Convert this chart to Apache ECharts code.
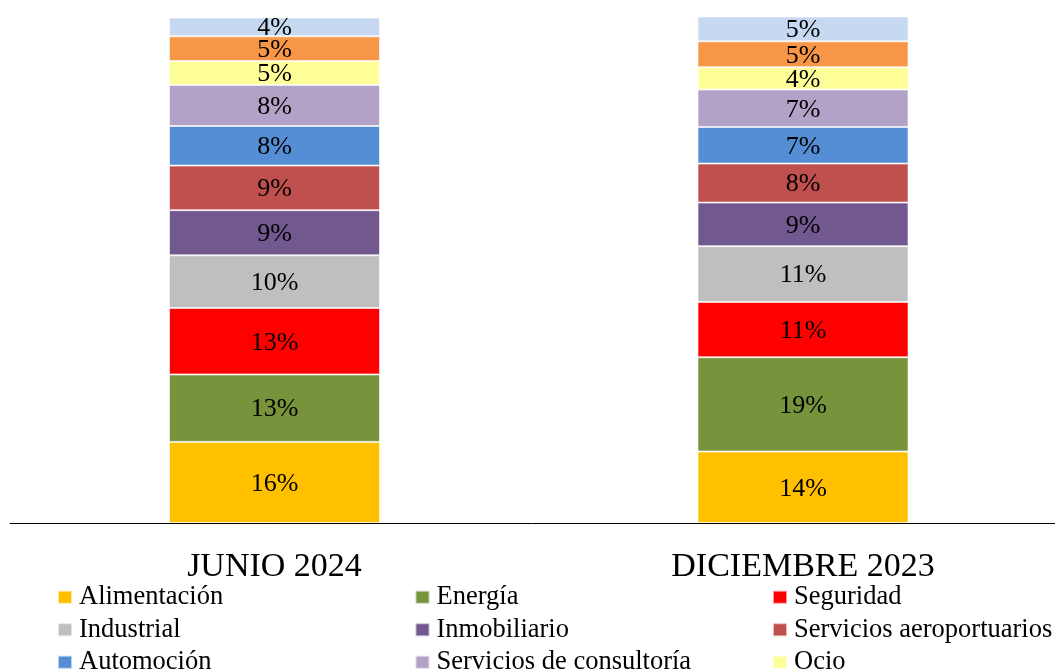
<!DOCTYPE html>
<html>
<head>
<meta charset="utf-8">
<script src="https://cdn.jsdelivr.net/npm/echarts@6/dist/echarts.min.js"></script>
<style>
html,body{margin:0;padding:0;background:#fff;}
#chart{width:1055px;height:669px;}
</style>
</head>
<body>
<div id="chart"></div>
<script>
const categories = ['JUNIO 2024', 'DICIEMBRE 2023'];
const seriesNames = ['Alimentación', 'Energía', 'Seguridad', 'Industrial', 'Inmobiliario',
  'Servicios aeroportuarios', 'Automoción', 'Servicios de consultoría', 'Ocio', 'Hostelería', 'Otros'];
const alimentacion = [16.0, 14.1];
const energia = [13.3, 18.6];
const seguridad = [13.1, 10.9];
const industrial = [10.4, 11.0];
const inmobiliario = [8.9, 8.6];
const aeroportuarios = [8.8, 7.7];
const automocion = [7.8, 7.2];
const consultoria = [8.1, 7.4];
const ocio = [4.7, 4.4];
const hosteleria = [4.9, 5.1];
const otros = [3.7, 4.9];
const seriesValues = [alimentacion, energia, seguridad, industrial, inmobiliario,
  aeroportuarios, automocion, consultoria, ocio, hosteleria, otros];
const colors = ['#FFC000', '#77933C', '#FF0000', '#BFBFBF', '#71588F',
  '#C0504D', '#558ED5', '#B3A2C7', '#FFFF99', '#F79646', '#C6D9F1'];

const font = '"Liberation Serif", "Times New Roman", serif';
const chart = echarts.init(document.getElementById('chart'));
chart.setOption({
  animation: false,
  color: colors,
  grid: [
    { left: 274.5, right: 252, top: 16, bottom: 146, containLabel: false },
    { left: 10, right: 0, top: 16, bottom: 146, containLabel: false }
  ],
  legend: {
    data: seriesNames,
    left: 57, top: 581, width: 1100,
    padding: 0,
    orient: 'horizontal',
    itemWidth: 14, itemHeight: 13, itemGap: 0,
    icon: 'rect',
    textStyle: { fontFamily: font, fontSize: 26.5, color: '#000', width: 335.5, overflow: 'truncate', lineHeight: 32.5, padding: [0,0,0,2] }
  },
  xAxis: [
    {
      type: 'category',
      gridIndex: 0,
      data: categories,
      boundaryGap: false,
      axisLine: { show: false },
      axisTick: { show: false },
      axisLabel: { fontFamily: font, fontSize: 34, color: '#000', margin: 27 }
    },
    {
      type: 'value',
      gridIndex: 1,
      min: 0, max: 1,
      axisLine: { show: true, onZero: false, lineStyle: { color: '#000', width: 1 } },
      axisTick: { show: false },
      axisLabel: { show: false },
      splitLine: { show: false }
    }
  ],
  yAxis: [
    { type: 'value', gridIndex: 0, min: 0, max: 100, show: false },
    { type: 'value', gridIndex: 1, min: 0, max: 1, show: false }
  ],
  series: seriesNames.map((n, i) => ({
    name: n,
    type: 'bar',
    stack: 'total',
    barWidth: 211,
    xAxisIndex: 0,
    yAxisIndex: 0,
    data: seriesValues[i],
    itemStyle: { borderColor: 'rgba(255,255,255,0.6)', borderWidth: 1 },
    label: {
      show: true, position: 'inside',
      offset: [0, 1.5],
      fontFamily: font, fontSize: 26, color: '#000',
      formatter: p => Math.round(p.value) + '%'
    }
  }))
});
</script>
</body>
</html>
